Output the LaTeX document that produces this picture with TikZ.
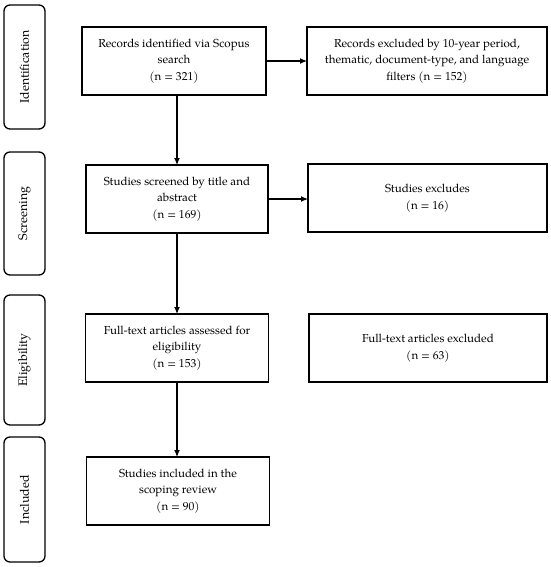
\documentclass[tikz,border=0pt]{standalone}
\usepackage{fontspec}
\setmainfont{texgyrepagella}[Extension=.otf, UprightFont=*-regular, BoldFont=*-bold, ItalicFont=*-italic, BoldItalicFont=*-bolditalic]
\usetikzlibrary{arrows.meta}
\begin{document}
\begin{tikzpicture}[x=1pt,y=1pt,
  every node/.style={inner sep=0pt, outer sep=0pt},
  flowbox/.style={draw=black, line width=1.3pt, rectangle, minimum height=68pt, align=center,
    font=\fontsize{11.6}{16.5}\selectfont},
  phasebox/.style={draw=black, line width=1.3pt, rectangle, rounded corners=6pt, minimum width=41pt},
  phasetext/.style={rotate=90, font=\fontsize{12.4}{14}\selectfont},
  arr/.style={line width=1.2pt, -{Latex[length=7pt,width=6pt]}}
]
\useasboundingbox (0,0) rectangle (550,-567);
% phase labels
\node[phasebox, minimum height=124pt] (ident) at (24.5,-67) {};
\node[phasetext] (identt) at (ident.center) {Identification};
\node[phasebox, minimum height=123pt] (screen) at (24.5,-213.5) {};
\node[phasetext] (screent) at (screen.center) {Screening};
\node[phasebox, minimum height=130pt] (elig) at (24.5,-360) {};
\node[phasetext] (eligt) at (elig.center) {Eligibility};
\node[phasebox, minimum height=125pt] (incl) at (24.5,-499.5) {};
\node[phasetext] (inclt) at (incl.center) {Included};
% main boxes
\node[flowbox, minimum width=184pt] (box1) at (174,-61) {Records identified via Scopus\\search\\(n = 321)};
\node[flowbox, minimum width=240pt] (excl1) at (427,-61) {Records excluded by 10-year period,\\thematic, document-type, and language\\filters (n = 152)};
\node[flowbox, minimum width=182pt] (box2) at (177,-199) {Studies screened by title and\\abstract\\(n = 169)};
\node[flowbox, minimum width=239pt] (excl2) at (427.5,-198) {Studies excludes\\(n = 16)};
\node[flowbox, minimum width=183pt] (box3) at (177,-348) {Full-text articles assessed for\\eligibility\\(n = 153)};
\node[flowbox, minimum width=238pt] (excl3) at (428,-348) {Full-text articles excluded\\(n = 63)};
\node[flowbox, minimum width=183pt] (box4) at (178,-491) {Studies included in the\\scoping review\\(n = 90)};
% connectors
\draw[arr] (box1.south -| box2.north) -- (box2.north);
\draw[arr] (box2.south) -- (box2.south |- box3.north);
\draw[arr] (box3.south) -- (box3.south |- box4.north);
\draw[arr] (box1.east) -- (box1.east -| excl1.west);
\draw[arr] (box2.east) -- (box2.east -| excl2.west);
\end{tikzpicture}
\end{document}
